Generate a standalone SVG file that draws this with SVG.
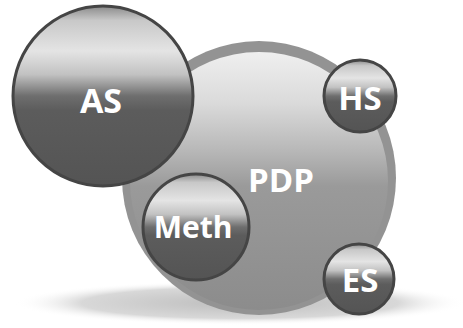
<svg xmlns="http://www.w3.org/2000/svg" width="463" height="328" viewBox="0 0 463 328">
  <defs>
    <radialGradient id="shadow" cx="0.5" cy="0.5" r="0.5">
      <stop offset="0" stop-color="#bdbdbd"/>
      <stop offset="0.7" stop-color="#d8d8d8"/>
      <stop offset="1" stop-color="#ffffff" stop-opacity="0"/>
    </radialGradient>
    <linearGradient id="bigFill" x1="0" y1="0" x2="0" y2="1">
      <stop offset="0" stop-color="#efefef"/>
      <stop offset="0.2" stop-color="#dadada"/>
      <stop offset="0.38" stop-color="#b8b8b8"/>
      <stop offset="0.52" stop-color="#9a9a9a"/>
      <stop offset="1" stop-color="#8c8c8c"/>
    </linearGradient>
    <linearGradient id="ball" x1="0" y1="0" x2="0" y2="1">
      <stop offset="0" stop-color="#8a8a8a"/>
      <stop offset="0.08" stop-color="#c8c8c8"/>
      <stop offset="0.25" stop-color="#e4e4e4"/>
      <stop offset="0.38" stop-color="#c2c2c2"/>
      <stop offset="0.5" stop-color="#6e6e6e"/>
      <stop offset="0.58" stop-color="#5c5c5c"/>
      <stop offset="1" stop-color="#545454"/>
    </linearGradient>
  </defs>
  <style>
    .ball { fill: url(#ball); stroke: #454545; stroke-width: 3; }
    .lbl { font-family: "Open Sans", "Liberation Sans", sans-serif; font-weight: 700; fill: #ffffff; text-anchor: middle; }
  </style>
  <rect width="463" height="328" fill="#ffffff"/>
  <ellipse id="shadow-floor" cx="240" cy="303" rx="226" ry="22" fill="url(#shadow)"/>
  <g id="PDP">
    <circle cx="259" cy="178" r="137" fill="#939393"/>
    <circle cx="259" cy="181" r="129" fill="url(#bigFill)"/>
    <text class="lbl" x="281" y="192" font-size="33">PDP</text>
  </g>
  <g id="AS">
    <circle class="ball" cx="103" cy="96" r="90"/>
    <text class="lbl" x="101" y="113" font-size="34">AS</text>
  </g>
  <g id="HS">
    <circle class="ball" cx="360" cy="96" r="36"/>
    <text class="lbl" x="360" y="110" font-size="33">HS</text>
  </g>
  <g id="Meth">
    <circle class="ball" cx="196" cy="227" r="53"/>
    <text class="lbl" x="193" y="238" font-size="30">Meth</text>
  </g>
  <g id="ES">
    <circle class="ball" cx="359" cy="279" r="35"/>
    <text class="lbl" x="360" y="292" font-size="33">ES</text>
  </g>
</svg>
